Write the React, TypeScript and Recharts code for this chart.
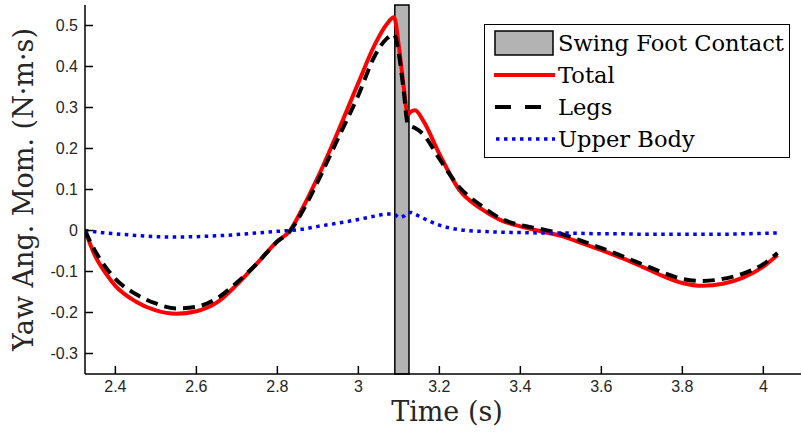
import { LineChart, Line, XAxis, YAxis, ReferenceArea, Legend } from "recharts";

// time samples (s) — denser around swing foot contact
const time = [
  2.325, 2.35, 2.375, 2.4, 2.45, 2.5, 2.55, 2.6, 2.65, 2.7, 2.75, 2.8, 2.83, 2.86, 2.9, 2.95, 3.0, 3.04,
  3.07, 3.088, 3.1, 3.112, 3.122, 3.13, 3.14, 3.16, 3.2, 3.25, 3.3, 3.35, 3.4, 3.45, 3.5, 3.55, 3.6, 3.65,
  3.7, 3.75, 3.8, 3.85, 3.9, 3.95, 4.0, 4.035,
];

const total = [
  0, -0.062, -0.103, -0.135, -0.173, -0.195, -0.203, -0.197, -0.176, -0.132, -0.08, -0.026, -0.002, 0.05,
  0.13, 0.242, 0.36, 0.452, 0.503, 0.52, 0.45, 0.35, 0.283, 0.29, 0.293, 0.268, 0.187, 0.098, 0.055, 0.026,
  0.01, -0.002, -0.013, -0.03, -0.048, -0.067, -0.088, -0.11, -0.128, -0.135, -0.13, -0.115, -0.088, -0.06,
];

const legs = [
  0, -0.05, -0.088, -0.118, -0.155, -0.178, -0.19, -0.186, -0.166, -0.127, -0.08, -0.027, -0.003, 0.043,
  0.12, 0.225, 0.33, 0.425, 0.468, 0.478, 0.43, 0.34, 0.26, 0.254, 0.25, 0.235, 0.175, 0.105, 0.063, 0.03,
  0.013, 0.004, -0.008, -0.025, -0.043, -0.062, -0.082, -0.102, -0.118, -0.123, -0.118, -0.105, -0.082,
  -0.055,
];

const upperBody = [
  0, -0.003, -0.006, -0.008, -0.012, -0.015, -0.016, -0.015, -0.013, -0.01, -0.006, -0.002, 0.0, 0.003,
  0.01, 0.018, 0.027, 0.035, 0.04, 0.04, 0.032, 0.035, 0.043, 0.044, 0.04, 0.03, 0.013, 0.002, -0.002,
  -0.004, -0.005, -0.006, -0.006, -0.007, -0.008, -0.008, -0.009, -0.009, -0.009, -0.009, -0.009, -0.008,
  -0.007, -0.006,
];

const xTicks = [2.4, 2.6, 2.8, 3, 3.2, 3.4, 3.6, 3.8, 4];
const yTicks = [-0.3, -0.2, -0.1, 0, 0.1, 0.2, 0.3, 0.4, 0.5];
const contact = [3.09, 3.125];

const legendItems = [
  { label: "Swing Foot Contact", kind: "area" },
  { label: "Total", kind: "solid" },
  { label: "Legs", kind: "dash" },
  { label: "Upper Body", kind: "dot" },
];

const data = time.map((t, i) => ({ t, total: total[i], legs: legs[i], upper: upperBody[i] }));

const serif = "'DejaVu Serif', serif";
const tickStyle = { fill: "#262626", fontSize: 16, fontFamily: "'Liberation Sans', Arial, sans-serif" };

const LegendBox = () => (
  <div
    style={{
      width: 306,
      height: 134,
      border: "1.5px solid #000",
      background: "#fff",
      fontFamily: serif,
      fontSize: 22.6,
      color: "#000",
      paddingTop: 2,
      boxSizing: "border-box",
    }}
  >
    {legendItems.map((item) => (
      <div key={item.label} style={{ display: "flex", alignItems: "center", height: 32 }}>
        <svg width={72} height={30} style={{ marginLeft: 8 }}>
          {item.kind === "area" && <rect x={2} y={3} width={58} height={24} fill="#b3b3b3" stroke="#000" strokeWidth={1.5} />}
          {item.kind === "solid" && <line x1={1} x2={62} y1={15} y2={15} stroke="#ff0000" strokeWidth={4} />}
          {item.kind === "dash" && (
            <line x1={2} x2={62} y1={15} y2={15} stroke="#000" strokeWidth={4} strokeDasharray="16 14" />
          )}
          {item.kind === "dot" && (
            <line x1={3} x2={62} y1={15} y2={15} stroke="#0000ff" strokeWidth={3.5} strokeDasharray="3.5 4.5" />
          )}
        </svg>
        <span style={{ marginLeft: -7, lineHeight: "30px" }}>{item.label}</span>
      </div>
    ))}
  </div>
);

export default function App() {
  return (
    <div style={{ position: "absolute", left: 0, top: 0, width: 802, height: 437, background: "#fff" }}>
      <LineChart width={802} height={437} data={data} margin={{ top: 5, right: 1, bottom: 0, left: 0 }}>
        <XAxis
          dataKey="t"
          type="number"
          domain={[2.325, 4.093]}
          ticks={xTicks}
          tickFormatter={(v) => String(v)}
          allowDataOverflow
          height={63}
          tickSize={-8}
          tickMargin={15}
          tick={tickStyle}
          axisLine={{ stroke: "#000", strokeWidth: 1.5 }}
          tickLine={{ stroke: "#000", strokeWidth: 1.5 }}
          label={{
            value: "Time (s)",
            position: "insideBottom",
            offset: 16,
            dx: 4,
            style: { fontFamily: serif, fontSize: 27, fill: "#262626" },
          }}
        />
        <YAxis
          type="number"
          domain={[-0.35, 0.55]}
          ticks={yTicks}
          tickFormatter={(v) => String(v)}
          allowDataOverflow
          width={85}
          tickSize={-8}
          tickMargin={15}
          tick={tickStyle}
          axisLine={{ stroke: "#000", strokeWidth: 1.5 }}
          tickLine={{ stroke: "#000", strokeWidth: 1.5 }}
          label={{
            value: "Yaw Ang. Mom. (N·m·s)",
            angle: -90,
            position: "insideLeft",
            offset: 0,
            dx: 23,
            textAnchor: "middle",
            style: { fontFamily: serif, fontSize: 27, fill: "#262626", textAnchor: "middle" },
          }}
        />
        <ReferenceArea
          x1={contact[0]}
          x2={contact[1]}
          y1={-0.35}
          y2={0.55}
          fill="#b3b3b3"
          fillOpacity={1}
          stroke="#000"
          strokeWidth={1.5}
        />
        <Line
          dataKey="total"
          type="monotone"
          stroke="#ff0000"
          strokeWidth={4}
          dot={false}
          isAnimationActive={false}
        />
        <Line
          dataKey="legs"
          type="monotone"
          stroke="#000"
          strokeWidth={4}
          strokeDasharray="12 7"
          dot={false}
          isAnimationActive={false}
        />
        <Line
          dataKey="upper"
          type="monotone"
          stroke="#0000ff"
          strokeWidth={3.5}
          strokeDasharray="3.5 4.5"
          dot={false}
          isAnimationActive={false}
        />
        <Legend
          layout="vertical"
          align="center"
          verticalAlign="middle"
          content={() => <LegendBox />}
          wrapperStyle={{ top: 24, left: 484, width: 306, height: 134 }}
        />
      </LineChart>
    </div>
  );
}
